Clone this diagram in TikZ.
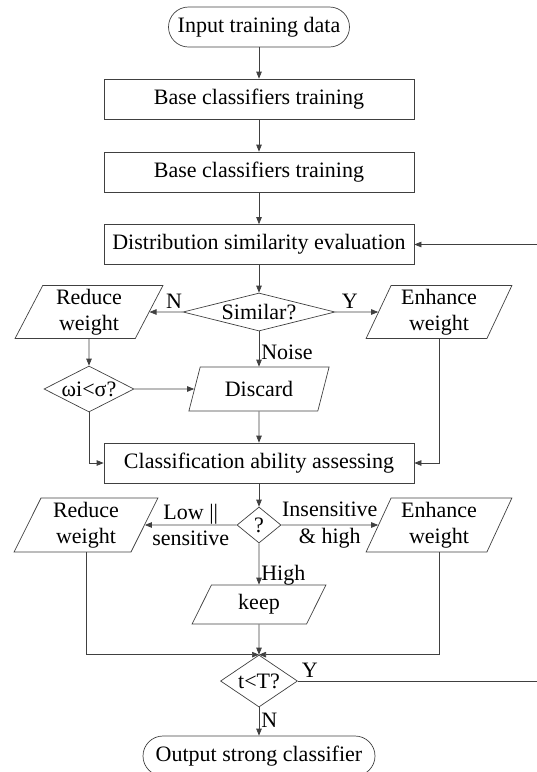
\documentclass[tikz,border=0pt]{standalone}
\usepackage{fontspec}
\setmainfont{Liberation Serif}
\usetikzlibrary{shapes.geometric,arrows.meta}

\begin{document}
\begin{tikzpicture}[x=1pt,y=-1pt,line width=0.7pt,draw=black!75,
        font=\fontsize{22}{26.5}\selectfont,
        >={Triangle[length=7pt,width=5.5pt]},
        proc/.style={draw,rectangle,minimum width=310pt,minimum height=40pt,inner sep=0pt},
        term/.style={draw,rectangle,rounded corners=20pt,minimum height=40pt,inner sep=0pt},
        io/.style={draw,trapezium,trapezium left angle=67,trapezium right angle=113,
            trapezium stretches=true,align=center,inner sep=0pt},
        test/.style={draw,diamond,inner sep=0pt}]
        \useasboundingbox (0,0) rectangle (537,772);

        \node[term,minimum width=181pt] (input) at (259,27) {Input training data};
        \node[proc] (base1) at (259,99) {Base classifiers training};
        \node[proc] (base2) at (259,172) {Base classifiers training};
        \node[proc] (dist) at (259,244.5) {Distribution similarity evaluation};
        \node[test,aspect=4,minimum width=152pt,minimum height=38pt] (similar) at (259,312) {Similar?};
        \node[io,minimum width=148pt,minimum height=53pt] (reduce1) at (89,312) {Reduce\\weight};
        \node[io,minimum width=146pt,minimum height=53pt] (enhance1) at (439,312) {Enhance\\weight};
        \node[test,aspect=2,minimum width=90pt,minimum height=46pt] (omega) at (89,389) {ωi<σ?};
        \node[io,minimum width=141pt,minimum height=44pt] (discard) at (259,389) {Discard};
        \node[proc] (assess) at (259,463) {Classification ability assessing};
        \node[test,minimum width=44pt,minimum height=36pt] (check) at (259,525) {?};
        \node[io,minimum width=144pt,minimum height=54pt] (reduce2) at (86,525) {Reduce\\weight};
        \node[io,minimum width=146pt,minimum height=54pt] (enhance2) at (439,525) {Enhance\\weight};
        \node[io,minimum width=134pt,minimum height=39pt] (keep) at (259,604.5) {keep};
        \node[test,aspect=1.5,minimum width=77pt,minimum height=52pt] (loop) at (259,681) {t<T?};
        \node[term,minimum width=232pt] (output) at (259,756) {Output strong classifier};
        \coordinate (back) at (537,244.5);
        \coordinate (again) at (537,681);

        \draw[->] (input) -- (base1);
        \draw[->] (base1) -- (base2);
        \draw[->] (base2) -- (dist);
        \draw[->] (back) -- (dist);
        \draw[->] (dist) -- (similar);
        \draw[->] (similar) -- node[above,pos=0.26] {N} (reduce1);
        \draw[->] (similar) -- node[above,pos=0.34] {Y} (enhance1);
        \draw[->] (similar) -- node[right,pos=0.6,inner sep=2pt] {Noise} (discard);
        \draw[->] (reduce1) -- (omega);
        \draw[->] (omega) -- (discard);
        \draw[->] (discard) -- (assess);
        \draw[->] (omega.south) |- (assess.west);
        \draw[->] (enhance1.south) |- (assess.east);
        \draw[->] (assess) -- (check);
        \draw[->] (check) -- node[align=center,inner sep=0pt] {Low ||\\sensitive} (reduce2);
        \draw[->] (check) -- node[align=center,inner sep=0pt] {Insensitive\\\& high} (enhance2);
        \draw[->] (check) -- node[right,pos=0.76,inner sep=2pt] {High} (keep);
        \draw[->] (keep) -- (loop);
        \draw[->] (reduce2.south) |- (loop.north);
        \draw[->] (enhance2.south) |- (loop.north);
        \draw (loop) -- node[above,pos=0.05] {Y} (again);
        \draw[->] (loop) -- node[right,pos=0.45,inner sep=2pt] {N} (output);
    \end{tikzpicture}
\end{document}
